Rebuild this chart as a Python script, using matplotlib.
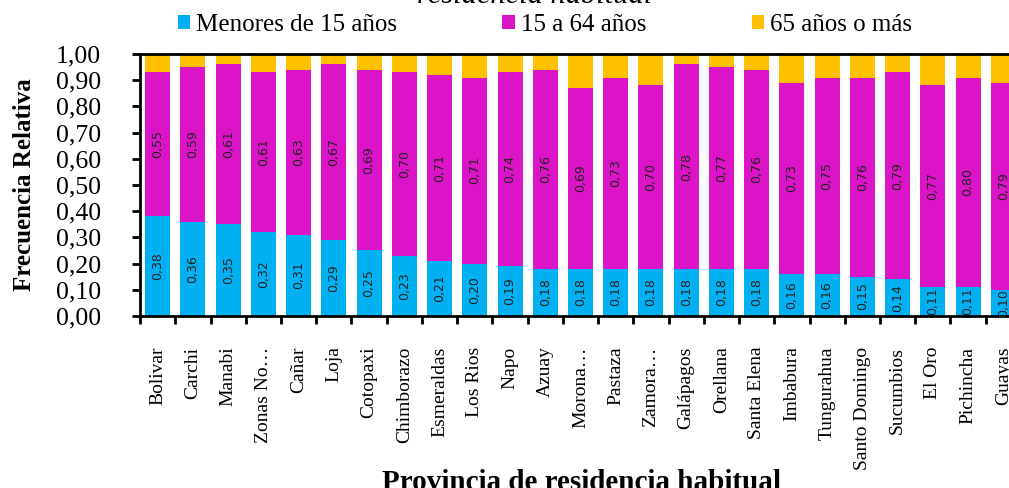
import numpy as np
import matplotlib
matplotlib.use('Agg')
import matplotlib.pyplot as plt
from matplotlib.ticker import FixedLocator

provincias = ['Bolivar', 'Carchi', 'Manabi', 'Zonas No…', 'Cañar', 'Loja', 'Cotopaxi',
              'Chimborazo', 'Esmeraldas', 'Los Rios', 'Napo', 'Azuay', 'Morona…',
              'Pastaza', 'Zamora…', 'Galápagos', 'Orellana', 'Santa Elena', 'Imbabura',
              'Tungurahua', 'Santo Domingo', 'Sucumbios', 'El Oro', 'Pichincha', 'Guayas']
menores15 = [0.38, 0.36, 0.35, 0.32, 0.31, 0.29, 0.25, 0.23, 0.21, 0.20, 0.19, 0.18, 0.18,
             0.18, 0.18, 0.18, 0.18, 0.18, 0.16, 0.16, 0.15, 0.14, 0.11, 0.11, 0.10]
de15a64 = [0.55, 0.59, 0.61, 0.61, 0.63, 0.67, 0.69, 0.70, 0.71, 0.71, 0.74, 0.76, 0.69,
           0.73, 0.70, 0.78, 0.77, 0.76, 0.73, 0.75, 0.76, 0.79, 0.77, 0.80, 0.79]
mayores65 = [0.07, 0.05, 0.04, 0.07, 0.06, 0.04, 0.06, 0.07, 0.08, 0.09, 0.07, 0.06, 0.13,
             0.09, 0.12, 0.04, 0.05, 0.06, 0.11, 0.09, 0.09, 0.07, 0.12, 0.09, 0.11]
series_names = ['Menores de 15 años', '15 a 64 años', '65 años o más']
colores = ['#00B0F0', '#DC14C8', '#FFC000']

serif = 'Liberation Serif'

fig = plt.figure(figsize=(10.09, 4.88), dpi=100)
ax = fig.add_axes([0.1388, 0.3525, 0.873, 0.537])

x = np.arange(len(provincias))
w = 0.71
b1 = ax.bar(x, menores15, w, color=colores[0], label=series_names[0])
b2 = ax.bar(x, de15a64, w, bottom=menores15, color=colores[1], label=series_names[1])
bottom3 = np.array(menores15) + np.array(de15a64)
b3 = ax.bar(x, mayores65, w, bottom=bottom3, color=colores[2], label=series_names[2])

fmt = lambda vals: [f"{v:.2f}".replace('.', ',') for v in vals]
ax.bar_label(b1, labels=fmt(menores15), label_type='center', rotation=90,
             fontsize=9, family='DejaVu Sans', color='#222222')
ax.bar_label(b2, labels=fmt(de15a64), label_type='center', rotation=90,
             fontsize=9, family='DejaVu Sans', color='#222222')

ax.set_xlim(-0.5, len(provincias) - 0.5)
ax.set_ylim(0, 1.0)
yt = np.round(np.arange(0, 1.01, 0.1), 2)
ax.set_yticks(yt)
ax.set_yticklabels(fmt(yt), fontsize=18.5, family=serif)
ax.set_xticks(x)
ax.set_xticklabels(provincias, rotation=90, fontsize=14, family=serif, va='top')
ax.tick_params(axis='x', which='major', length=0, pad=22)
ax.xaxis.set_minor_locator(FixedLocator(np.arange(-0.5, len(provincias), 1.0)))
ax.tick_params(axis='x', which='minor', length=6, width=2, direction='out')
ax.tick_params(axis='y', length=6, width=2, direction='out', pad=22)

for s in ['left', 'bottom', 'top', 'right']:
    ax.spines[s].set_linewidth(2)

ax.set_ylabel('Frecuencia Relativa', fontsize=18, family=serif, fontweight='bold')
ax.yaxis.set_label_coords(-0.118, 0.5)

fig.text(581 / 1009, 1 - 483 / 488, 'Provincia de residencia habitual', ha='center',
         va='center', fontsize=21, family=serif, fontweight='bold')
fig.text(535 / 1009, 1 - 3 / 488, 'residencia habitual', ha='center', va='baseline',
         fontsize=22, family=serif, style='italic')

fig.legend(handles=[b1, b2, b3], labels=series_names, loc='center',
           bbox_to_anchor=(545 / 1009, 1 - 25 / 488), ncol=3, frameon=False,
           prop={'family': serif, 'size': 18}, handlelength=0.5, handleheight=0.5,
           handletextpad=0.25, columnspacing=4.2, borderpad=0)

fig.savefig('out.png', dpi=100)
